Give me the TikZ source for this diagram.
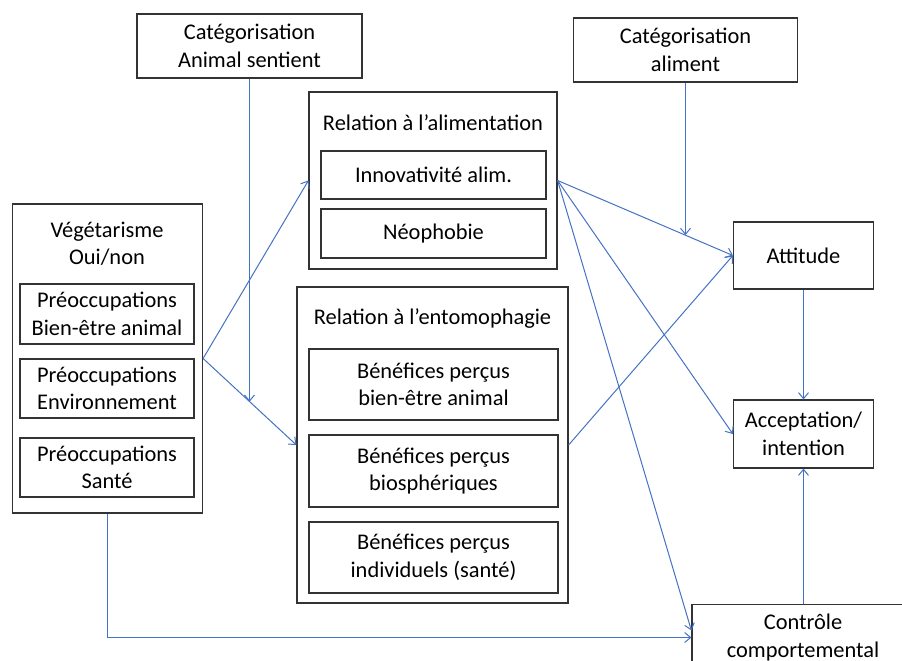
\documentclass[tikz,border=0pt]{standalone}
\usepackage{fontspec}
\setmainfont{Carlito}
\usepackage{tikz}
\usetikzlibrary{arrows.meta, positioning, calc}
\definecolor{linkblue}{HTML}{4472C4}

\begin{document}
\begin{tikzpicture}[
    x=1pt, y=-1pt,
    box/.style={rectangle, draw=black!80, line width=1.2pt, fill=white, align=center, font=\fontsize{22.4}{27.5}\selectfont, inner sep=0pt},
    group/.style={box},
    title/.style={align=center, font=\fontsize{22.4}{27.5}\selectfont, inner sep=0pt},
    arrow/.style={-{Straight Barb[length=6pt,width=10pt]}, linkblue, line width=1pt}
]
\useasboundingbox (0,0) rectangle (902,661);
\clip (0,0) rectangle (902,661);

% Categorisation boxes
\node[box, minimum width=225, minimum height=64] (catanim) at (249.5,46) {Catégorisation\\Animal sentient};
\node[box, minimum width=224, minimum height=64] (catalim) at (685.5,50) {Catégorisation\\aliment};

% Relation a l'alimentation
\node[group, minimum width=248, minimum height=177] (alim) at (433,180.5) {};
\node[title] (alimtitle) at (433,123) {Relation à l’alimentation};
\node[box, minimum width=225, minimum height=48] (innov) at (433.5,175) {Innovativité alim.};
\node[box, minimum width=225, minimum height=49] (neo) at (433.5,233.5) {Néophobie};

% Vegetarisme
\node[group, minimum width=190, minimum height=309] (veg) at (107.5,358.5) {};
\node[title] (vegtitle) at (107,244) {Végétarisme\\Oui/non};
\node[box, minimum width=174, minimum height=60] (bienetre) at (107,314) {Préoccupations\\Bien-être animal};
\node[box, minimum width=174, minimum height=59] (envir) at (107,388.5) {Préoccupations\\Environnement};
\node[box, minimum width=174, minimum height=59] (sante) at (107,467.5) {Préoccupations\\Santé};

% Relation a l'entomophagie
\node[group, minimum width=271, minimum height=316] (ento) at (432.5,445) {};
\node[title] (entotitle) at (432.5,319) {Relation à l’entomophagie};
\node[box, minimum width=249, minimum height=71] (ben1) at (433.5,384.5) {Bénéfices perçus\\bien-être animal};
\node[box, minimum width=249, minimum height=72] (ben2) at (433.5,471) {Bénéfices perçus\\biosphériques};
\node[box, minimum width=249, minimum height=71] (ben3) at (433.5,557.5) {Bénéfices perçus\\individuels (santé)};

% Outcomes
\node[box, minimum width=140, minimum height=67] (attitude) at (803.5,255.5) {Attitude};
\node[box, minimum width=140, minimum height=68] (accept) at (803.5,434) {Acceptation/\\intention};
\node[box, minimum width=222, minimum height=66] (ctrl) at (803,637.5) {Contrôle\\comportemental};

% Relationships
\draw[arrow] (veg.east) -- (alim.west);
\draw[arrow] (veg.east) -- coordinate[pos=0.5] (vegmid) (ento.west);
\draw[arrow] (catanim.south) -- (catanim.south |- vegmid);
\draw[arrow] (alim.east) -- coordinate[pos=0.727] (alimmid) (attitude.west);
\draw[arrow] (catalim.south) -- (catalim.south |- alimmid);
\draw[arrow] (alim.east) -- (accept.west);
\draw[arrow] (alim.east) -- ([yshift=7pt]ctrl.west);
\draw[arrow] (ento.east) -- (attitude.west);
\draw[arrow] (attitude) -- (accept);
\draw[arrow] (accept.south |- ctrl.north) -- (accept.south);
\draw[arrow] (veg.south) |- (ctrl.west);

\end{tikzpicture}
\end{document}
